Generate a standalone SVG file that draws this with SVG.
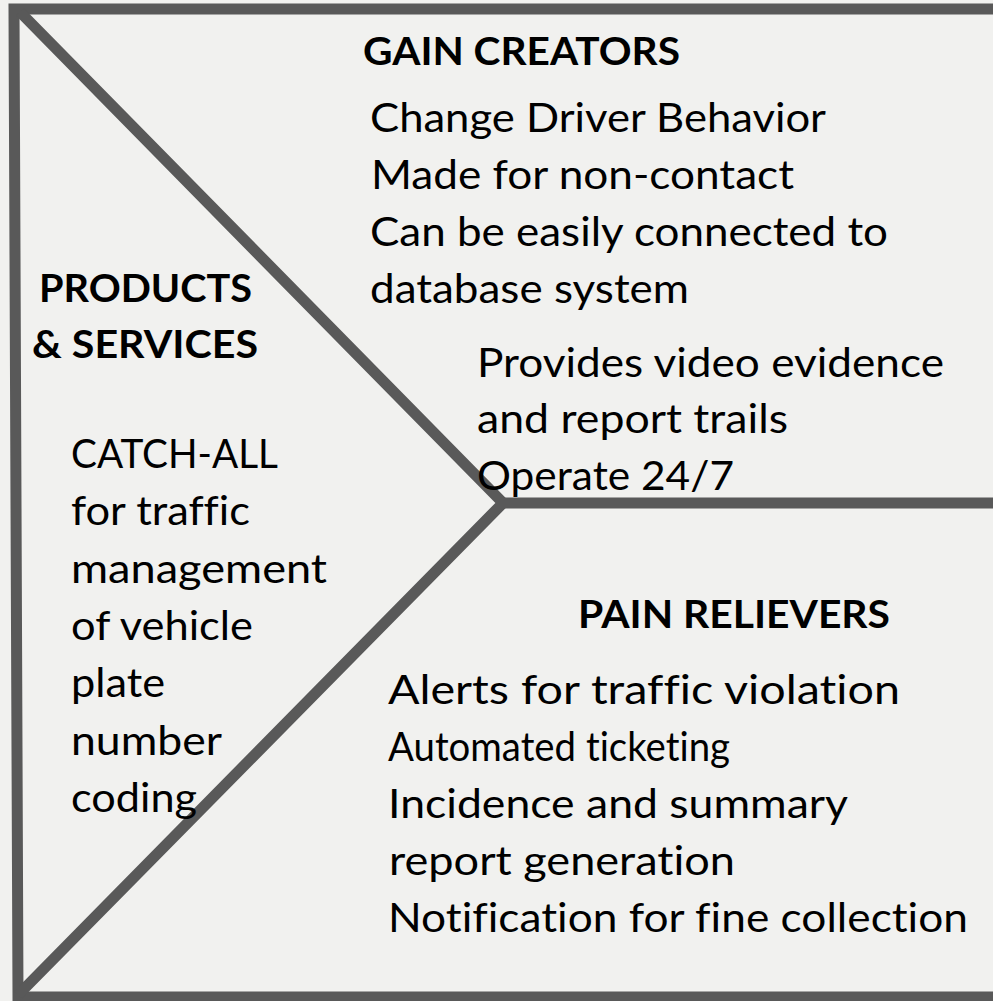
<svg xmlns="http://www.w3.org/2000/svg" width="993" height="1001" viewBox="0 0 993 1001">
  <style>
    .bg { fill: #f1f1ef; }
    .line { fill: none; stroke: #595959; stroke-width: 11; stroke-linejoin: miter; }
    .t { font-family: Lato, "Open Sans", "Liberation Sans", sans-serif; font-size: 40px; fill: #000; font-variant-ligatures: none; }
    .h { font-family: Lato, "Open Sans", "Liberation Sans", sans-serif; font-size: 39px; font-weight: bold; fill: #000; font-variant-ligatures: none; }
  </style>
  <rect class="bg" x="0" y="0" width="993" height="1001"/>
  <g id="connectors">
    <path class="line" d="M 1000 9 L 14 9 L 18 997 L 1000 997"/>
    <path class="line" d="M 20 12 L 503 503 L 18 995"/>
    <path class="line" d="M 503 503 L 1000 503"/>
  </g>
  <g id="gain-creators">
    <text class="h" x="363" y="65" textLength="317" lengthAdjust="spacingAndGlyphs">GAIN CREATORS</text>
    <text class="t" x="370" y="132" textLength="456" lengthAdjust="spacingAndGlyphs">Change Driver Behavior</text>
    <text class="t" x="371" y="189" textLength="423" lengthAdjust="spacingAndGlyphs">Made for non-contact</text>
    <text class="t" x="370" y="246" textLength="518" lengthAdjust="spacingAndGlyphs">Can be easily connected to</text>
    <text class="t" x="370" y="303" textLength="319" lengthAdjust="spacingAndGlyphs">database system</text>
    <text class="t" x="477" y="377" textLength="467" lengthAdjust="spacingAndGlyphs">Provides video evidence</text>
    <text class="t" x="477" y="433" textLength="311" lengthAdjust="spacingAndGlyphs">and report trails</text>
    <text class="t" x="477" y="490" textLength="257" lengthAdjust="spacingAndGlyphs">Operate 24/7</text>
  </g>
  <g id="products-services">
    <text class="h" x="39" y="302" textLength="213" lengthAdjust="spacingAndGlyphs">PRODUCTS</text>
    <text class="h" x="32" y="358" textLength="226" lengthAdjust="spacingAndGlyphs">&amp; SERVICES</text>
    <text class="t" x="71" y="468" textLength="207" lengthAdjust="spacingAndGlyphs">CATCH-ALL</text>
    <text class="t" x="71" y="525" textLength="179" lengthAdjust="spacingAndGlyphs">for traffic</text>
    <text class="t" x="71" y="583" textLength="256" lengthAdjust="spacingAndGlyphs">management</text>
    <text class="t" x="71" y="640" textLength="182" lengthAdjust="spacingAndGlyphs">of vehicle</text>
    <text class="t" x="71" y="697" textLength="94" lengthAdjust="spacingAndGlyphs">plate</text>
    <text class="t" x="71" y="755" textLength="151" lengthAdjust="spacingAndGlyphs">number</text>
    <text class="t" x="71" y="812" textLength="126" lengthAdjust="spacingAndGlyphs">coding</text>
  </g>
  <g id="pain-relievers">
    <text class="h" x="578" y="628" textLength="312" lengthAdjust="spacingAndGlyphs">PAIN RELIEVERS</text>
    <text class="t" x="388" y="704" textLength="512" lengthAdjust="spacingAndGlyphs">Alerts for traffic violation</text>
    <text class="t" x="388" y="761" textLength="342" lengthAdjust="spacingAndGlyphs">Automated ticketing</text>
    <text class="t" x="388" y="818" textLength="460" lengthAdjust="spacingAndGlyphs">Incidence and summary</text>
    <text class="t" x="389" y="875" textLength="346" lengthAdjust="spacingAndGlyphs">report generation</text>
    <text class="t" x="388" y="932" textLength="580" lengthAdjust="spacingAndGlyphs">Notification for fine collection</text>
  </g>
</svg>
